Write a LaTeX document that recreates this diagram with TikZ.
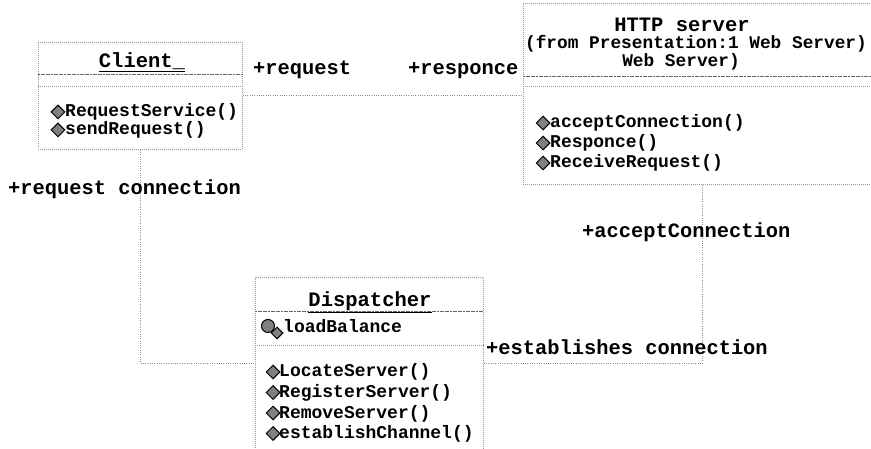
\documentclass[tikz,border=0pt]{standalone}
\usepackage{fontspec}
\newfontfamily\mono{Liberation Mono}
\usetikzlibrary{shapes.geometric}
\begin{document}
\begin{tikzpicture}[x=1pt,y=-1pt,
  boxline/.style={draw=black!40, line width=0.7pt, dash pattern=on 1pt off 1pt},
  sepline/.style={draw=black!60, line width=0.8pt, dash pattern=on 2pt off 0.6pt},
  sepline2/.style={draw=black!40, line width=0.7pt, dash pattern=on 1pt off 1pt},
  conn/.style={draw=black!45, line width=0.7pt, dash pattern=on 1pt off 1.3pt},
  clsbox/.style={boxline, anchor=north west, inner sep=0pt},
  lbl/.style={font=\mono\bfseries\fontsize{20.4}{22}\selectfont, anchor=base west, inner sep=0pt},
  ttl/.style={font=\mono\bfseries\fontsize{20.5}{22}\selectfont, anchor=base, inner sep=0pt},
  mth/.style={font=\mono\bfseries\fontsize{18}{20}\selectfont, anchor=base west, inner sep=0pt},
  frm/.style={font=\mono\bfseries\fontsize{17.8}{20}\selectfont, anchor=base, inner sep=0pt},
  micon/.style={diamond, draw=black, fill=black!50, inner sep=0pt, minimum width=14pt, minimum height=14pt, line width=1pt}
]
\useasboundingbox (0,0) rectangle (871,449);
\clip (0,0) rectangle (871,449);

% ---- class boxes ----
\node[clsbox, minimum width=204pt, minimum height=107pt] (client) at (38,42) {};
\node[clsbox, minimum width=358pt, minimum height=181pt] (http) at (523,3) {};
\node[clsbox, minimum width=228pt, minimum height=172pt] (disp) at (255,277) {};

% separators
\draw[sepline]  ([yshift=-32pt]client.north west) -- ([yshift=-32pt]client.north east);
\draw[sepline2] ([yshift=-44pt]client.north west) -- ([yshift=-44pt]client.north east);
\draw[sepline]  ([yshift=-73pt]http.north west) -- ([yshift=-73pt]http.north east);
\draw[sepline2] ([yshift=-83pt]http.north west) -- ([yshift=-83pt]http.north east);
\draw[sepline]  ([yshift=-34pt]disp.north west) -- ([yshift=-34pt]disp.north east);
\draw[sepline2] ([yshift=-68pt]disp.north west) -- ([yshift=-68pt]disp.north east);

% ---- Client ----
\node[ttl] (cname) at (142,68) {\underline{Client\_}};
\node[micon] (ci1) at (58,112) {};
\node[mth] (cm1) at (65,117) {RequestService()};
\node[micon] (ci2) at (58,130) {};
\node[mth] (cm2) at (65,135) {sendRequest()};

% ---- HTTP server ----
\node[ttl] (hname) at (682,32) {HTTP server};
\node[frm] (hfrom) at (696,49) {(from Presentation:1 Web Server)};
\node[frm] (hweb) at (681,67) {Web Server)};
\node[micon] (hi1) at (543,123) {};
\node[mth] (hm1) at (550,128) {acceptConnection()};
\node[micon] (hi2) at (543,143) {};
\node[mth] (hm2) at (550,148) {Responce()};
\node[micon] (hi3) at (543,163) {};
\node[mth] (hm3) at (550,168) {ReceiveRequest()};

% ---- Dispatcher ----
\node[ttl] (dname) at (370,307) {\underline{Dispatcher}};
% private attribute icon: lock + diamond
\node[circle, draw=black, fill=black!50, line width=1pt, minimum size=13pt, inner sep=0pt] (dlock) at (268,326) {};
\node[micon, minimum width=12pt, minimum height=12pt] (dai) at (277,333) {};
\node[mth] (da1) at (283,333) {loadBalance};
\node[micon] (di1) at (273,372) {};
\node[mth] (dm1) at (279,377) {LocateServer()};
\node[micon] (di2) at (273,392.5) {};
\node[mth] (dm2) at (279,397.5) {RegisterServer()};
\node[micon] (di3) at (273,413) {};
\node[mth] (dm3) at (279,418) {RemoveServer()};
\node[micon] (di4) at (273,433.5) {};
\node[mth] (dm4) at (279,438.5) {establishChannel()};

% ---- connectors ----
\draw[conn] (client.east) -- (client.east -| http.west);
\draw[conn] (client.south) |- (disp.west);
\draw[conn] (disp.east) -| (http.south);

% ---- role labels ----
\node[lbl] (l1) at (253,75) {+request};
\node[lbl] (l2) at (408,75) {+responce};
\node[lbl] (l3) at (8,195) {+request connection};
\node[lbl] (l4) at (582,238) {+acceptConnection};
\node[lbl] (l5) at (486,355) {+establishes connection};
\end{tikzpicture}
\end{document}
